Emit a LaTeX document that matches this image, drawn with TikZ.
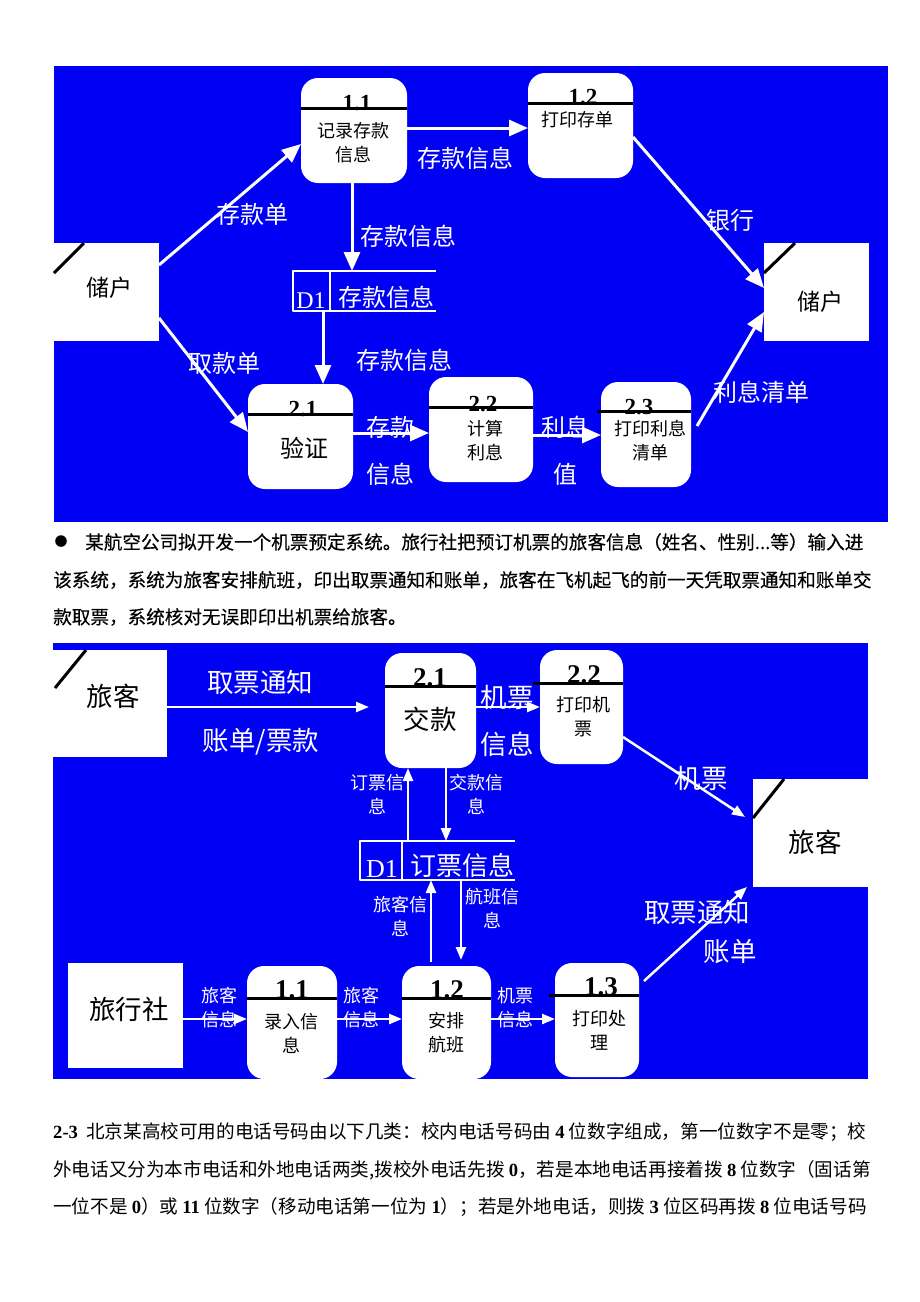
\documentclass[tikz,border=0pt]{standalone}
\usepackage{fontspec}
\setmainfont{Liberation Serif}
\newfontfamily\cjk{Noto Sans CJK SC}
\newfontfamily\cjkb[FakeBold=0.35]{Noto Sans CJK SC}
\usetikzlibrary{arrows.meta}
\definecolor{bgblue}{RGB}{0,0,245}
\newcommand\fsz[2]{\fontsize{#1}{#2}\selectfont}
\newcommand\bd[1]{{\rmfamily\bfseries #1}}
\begin{document}
\begin{tikzpicture}[x=1pt,y=-1pt,line join=round,
  proc/.style={fill=white,rounded corners=17pt,inner sep=0pt,outer sep=0pt},
  ent/.style={fill=white,inner sep=0pt,outer sep=0pt},
  box/.style={inner sep=0pt,outer sep=0pt},
  flowa/.style={white,line width=3pt,-{Triangle[length=19pt,width=16pt]}},
  flowb/.style={white,line width=2.5pt,-{Triangle[length=13pt,width=10pt]}},
  bar/.style={black,line width=3pt},
  store/.style={white,line width=2pt},
  lab/.style={white,inner sep=0pt,font=\cjk\fsz{24}{30}},
  biglab/.style={white,inner sep=0pt,font=\cjk\fsz{26.5}{32}},
  slab/.style={white,inner sep=0pt,align=center,font=\cjk\fsz{18}{24}},
  ptxt/.style={black,inner sep=0pt,align=center,font=\cjk\fsz{18}{24}},
  pnum/.style={black,inner sep=0pt,anchor=base,font=\bfseries\fsz{23}{23}},
  pnumb/.style={black,inner sep=0pt,anchor=base,font=\bfseries\fsz{27}{27}},
  para/.style={black,inner sep=0pt,anchor=west,font=\cjkb\fsz{18.6}{24}}]
\fill[white] (0,0) rectangle (920,1302);
\useasboundingbox (0,0) rectangle (920,1302);

% first diagram
\fill[bgblue] (54,66) rectangle (888,522);
\node[ent,minimum width=105pt,minimum height=98pt] (cuL) at (106.5,292) {};
\draw[bar] ([yshift=19pt]cuL.west) -- ([xshift=30pt]cuL.north west);
\node[black,inner sep=0pt,font=\cjk\fsz{23}{23}] (cuLt) at (109,288) {储户};
\node[ent,minimum width=105pt,minimum height=98pt] (cuR) at (816.5,292) {};
\draw[bar] ([yshift=19pt]cuR.west) -- ([xshift=31pt]cuR.north west);
\node[black,inner sep=0pt,font=\cjk\fsz{23}{23}] (cuRt) at (820,302) {储户};

\node[proc,minimum width=106pt,minimum height=105pt] (p11) at (354,130.5) {};
\node[pnum] (p11n) at (357,110) {1.1};
\draw[bar] ([yshift=-30pt]p11.north west) -- ([yshift=-30pt]p11.north east);
\node[ptxt] (p11t) at (353,143) {记录存款\\信息};
\node[proc,minimum width=105pt,minimum height=105pt] (p12) at (580.5,125.5) {};
\node[pnum] (p12n) at (583,104) {1.2};
\draw[bar] ([yshift=-30pt]p12.north west) -- ([yshift=-30pt]p12.north east);
\node[ptxt] (p12t) at (577,120) {打印存单};
\node[proc,minimum width=105pt,minimum height=105pt] (p21) at (300.5,436.5) {};
\node[pnum] (p21n) at (303,416) {2.1};
\draw[bar] ([yshift=-30pt]p21.north west) -- ([yshift=-30pt]p21.north east);
\node[black,inner sep=0pt,font=\cjk\fsz{24}{24}] (p21t) at (304,448) {验证};
\node[proc,minimum width=104pt,minimum height=105pt] (p22) at (481,429.5) {};
\node[pnum] (p22n) at (483,411) {2.2};
\draw[bar] ([yshift=-30pt]p22.north west) -- ([yshift=-30pt]p22.north east);
\node[ptxt] (p22t) at (485,440.5) {计算\\利息};
\node[proc,minimum width=90pt,minimum height=105pt] (p23) at (646,434.5) {};
\node[pnum] (p23n) at (639,414) {2.3};
\draw[bar] ([xshift=-4pt,yshift=-29pt]p23.north west) -- ([yshift=-29pt]p23.north east);
\node[ptxt] (p23t) at (650,440.5) {打印利息\\清单};

\node[box,minimum width=143pt,minimum height=40pt] (d1) at (364.5,291) {};
\draw[store] (d1.north east) -- (d1.north west) -- (d1.south west) -- (d1.south east);
\draw[store] ([xshift=37pt]d1.north west) -- ([xshift=37pt]d1.south west);
\node[white,inner sep=0pt,anchor=base,font=\fsz{24}{24}] (d1a) at (311,308) {D1};
\node[white,inner sep=0pt,anchor=base,font=\cjk\fsz{24}{24}] (d1b) at (386,306) {存款信息};

\draw[flowa] ([yshift=27pt]cuL.east) -- ([yshift=-13.5pt]p11.west);
\draw[flowa] ([yshift=-26pt]cuL.east) -- ([yshift=4.5pt]p21.west);
\draw[flowa] ([yshift=2.5pt]p11.east) -- ([yshift=-2.5pt]p12.west);
\draw[flowa] ([xshift=-2pt]p11.south) -- ([xshift=-12.5pt]d1.north);
\draw[flowa] ([xshift=-41.5pt]d1.south) -- ([xshift=22.5pt]p21.north);
\draw[flowa] ([yshift=3.5pt]p21.east) -- ([yshift=-3.5pt]p22.west);
\draw[flowa] ([yshift=-5.5pt]p22.east) -- ([yshift=-0.5pt]p23.west);
\draw[flowa] ([yshift=-11.5pt]p12.east) -- ([yshift=4pt]cuR.west);
\draw[flowa] ([xshift=6pt,yshift=8.5pt]p23.east) -- ([yshift=-20pt]cuR.west);

\node[lab] (l1) at (252,214) {存款单};
\node[lab] (l2) at (465,158) {存款信息};
\node[lab] (l3) at (408,236) {存款信息};
\node[lab] (l4) at (404,360) {存款信息};
\node[lab] (l5) at (224,363) {取款单};
\node[lab] (l6) at (390,427) {存款};
\node[lab] (l7) at (390,474) {信息};
\node[lab] (l8) at (565,427) {利息};
\node[lab] (l9) at (565,474) {值};
\node[lab] (l10) at (730,220) {银行};
\node[lab] (l11) at (761,392) {利息清单};

% text between
\node[black,inner sep=0pt,font=\cjk\fsz{13}{13}] (dot) at (61,542) {●};
\node[para] (t1) at (85,542) {某航空公司拟开发一个机票预定系统。旅行社把预订机票的旅客信息（姓名、性别...等）输入进};
\node[para] (t2) at (53,580) {该系统，系统为旅客安排航班，印出取票通知和账单，旅客在飞机起飞的前一天凭取票通知和账单交};
\node[para] (t3) at (53,617) {款取票，系统核对无误即印出机票给旅客。};

% second diagram
\fill[bgblue] (53,643) rectangle (868,1079);
\node[ent,minimum width=114pt,minimum height=107pt] (lkL) at (110,703.5) {};
\draw[bar] ([xshift=2pt,yshift=15.5pt]lkL.west) -- ([xshift=33pt]lkL.north west);
\node[black,inner sep=0pt,font=\cjk\fsz{26.5}{26.5}] (lkLt) at (113,696) {旅客};
\node[ent,minimum width=115pt,minimum height=108pt] (lkR) at (810.5,833) {};
\draw[bar] ([yshift=15pt]lkR.west) -- ([xshift=31pt]lkR.north west);
\node[black,inner sep=0pt,font=\cjk\fsz{26.5}{26.5}] (lkRt) at (815,842) {旅客};
\node[ent,minimum width=115pt,minimum height=105pt] (lxs) at (125.5,1015.5) {};
\node[black,inner sep=0pt,font=\cjk\fsz{26.5}{26.5}] (lxst) at (129,1009) {旅行社};

\node[proc,minimum width=91pt,minimum height=115pt] (q21) at (430.5,710.5) {};
\node[pnumb] (q21n) at (430,686) {2.1};
\draw[bar] ([yshift=-33pt]q21.north west) -- ([yshift=-33pt]q21.north east);
\node[black,inner sep=0pt,font=\cjk\fsz{26.5}{26.5}] (q21t) at (430,719) {交款};
\node[proc,minimum width=83pt,minimum height=114pt] (q22) at (581.5,707) {};
\node[pnumb] (q22n) at (584,683) {2.2};
\draw[bar] ([xshift=-7pt,yshift=-33pt]q22.north west) -- ([yshift=-33pt]q22.north east);
\node[ptxt] (q22t) at (583,717) {打印机\\票};
\node[proc,minimum width=90pt,minimum height=113pt] (q11) at (292,1022.5) {};
\node[pnumb] (q11n) at (292,998) {1.1};
\draw[bar] ([yshift=-32pt]q11.north west) -- ([yshift=-32pt]q11.north east);
\node[ptxt] (q11t) at (291,1033) {录入信\\息};
\node[proc,minimum width=89pt,minimum height=113pt] (q12) at (446.5,1022.5) {};
\node[pnumb] (q12n) at (447,998) {1.2};
\draw[bar] ([yshift=-32pt]q12.north west) -- ([yshift=-32pt]q12.north east);
\node[ptxt] (q12t) at (446,1033) {安排\\航班};
\node[proc,minimum width=84pt,minimum height=114pt] (q13) at (597,1020) {};
\node[pnumb] (q13n) at (601,995) {1.3};
\draw[bar] ([xshift=-6pt,yshift=-32pt]q13.north west) -- ([yshift=-32pt]q13.north east);
\node[ptxt] (q13t) at (599,1030) {打印处\\理};

\node[box,minimum width=155pt,minimum height=39pt] (d2) at (437.5,860.5) {};
\draw[store] (d2.north east) -- (d2.north west) -- (d2.south west) -- (d2.south east);
\draw[store] ([xshift=42pt]d2.north west) -- ([xshift=42pt]d2.south west);
\node[white,inner sep=0pt,anchor=base,font=\fsz{26}{26}] (d2a) at (382,877) {D1};
\node[white,inner sep=0pt,anchor=base,font=\cjk\fsz{26}{26}] (d2b) at (462,875) {订票信息};

\draw[flowb] ([yshift=-3.5pt]lkL.east) -- ([xshift=-16pt,yshift=3.5pt]q21.west);
\draw[flowb] ([yshift=3.5pt]q21.east) -- (q22.west);
\draw[flowb] ([yshift=-30pt]q22.east) -- ([xshift=-8pt,yshift=16pt]lkR.west);
\draw[flowb] ([xshift=15.5pt]q21.south) -- ([xshift=8.5pt]d2.north);
\draw[flowb] ([xshift=-29.5pt]d2.north) -- ([xshift=-22.5pt]q21.south);
\draw[flowb] ([xshift=23.5pt]d2.south) -- ([xshift=14.5pt,yshift=6pt]q12.north);
\draw[flowb] ([xshift=-15.5pt,yshift=4pt]q12.north) -- ([xshift=-6.5pt]d2.south);
\draw[flowb] ([yshift=-3.5pt]lxs.east) -- ([yshift=3.5pt]q11.west);
\draw[flowb] ([yshift=3.5pt]q11.east) -- ([yshift=3.5pt]q12.west);
\draw[flowb] ([yshift=3.5pt]q12.east) -- ([yshift=1pt]q13.west);
\draw[flowb] ([xshift=5pt,yshift=39pt]q13.east) -- ([xshift=-6pt]lkR.south west);

\node[biglab] (m1) at (260,682) {取票通知};
\node[biglab] (m2) at (261,742) {账单/票款};
\node[biglab] (m3) at (507,697) {机票};
\node[biglab] (m4) at (507,744) {信息};
\node[biglab] (m5) at (701,778) {机票};
\node[biglab] (m6) at (697,912) {取票通知};
\node[biglab] (m7) at (730,952) {账单};
\node[slab] (m8) at (377,794) {订票信\\息};
\node[slab] (m9) at (476,794) {交款信\\息};
\node[slab] (m10) at (492,908.5) {航班信\\息};
\node[slab] (m11) at (400,916.5) {旅客信\\息};
\node[slab] (m12) at (219,1008) {旅客\\信息};
\node[slab] (m13) at (361,1008) {旅客\\信息};
\node[slab] (m14) at (515,1008) {机票\\信息};

% text below
\node[para,font=\cjk\fsz{18.6}{24}] (u1) at (53,1132) {\bd{2-3}\ \ 北京某高校可用的电话号码由以下几类：校内电话号码由 \bd{4} 位数字组成，第一位数字不是零；校};
\node[para,font=\cjk\fsz{18.6}{24}] (u2) at (53,1170) {外电话又分为本市电话和外地电话两类,拨校外电话先拨 \bd{0}，若是本地电话再接着拨 \bd{8} 位数字（固话第};
\node[para,font=\cjk\fsz{18.6}{24}] (u3) at (53,1207) {一位不是 \bd{0}）或 \bd{11} 位数字（移动电话第一位为 \bd{1}）；若是外地电话，则拨 \bd{3} 位区码再拨 \bd{8} 位电话号码};
\end{tikzpicture}
\end{document}
